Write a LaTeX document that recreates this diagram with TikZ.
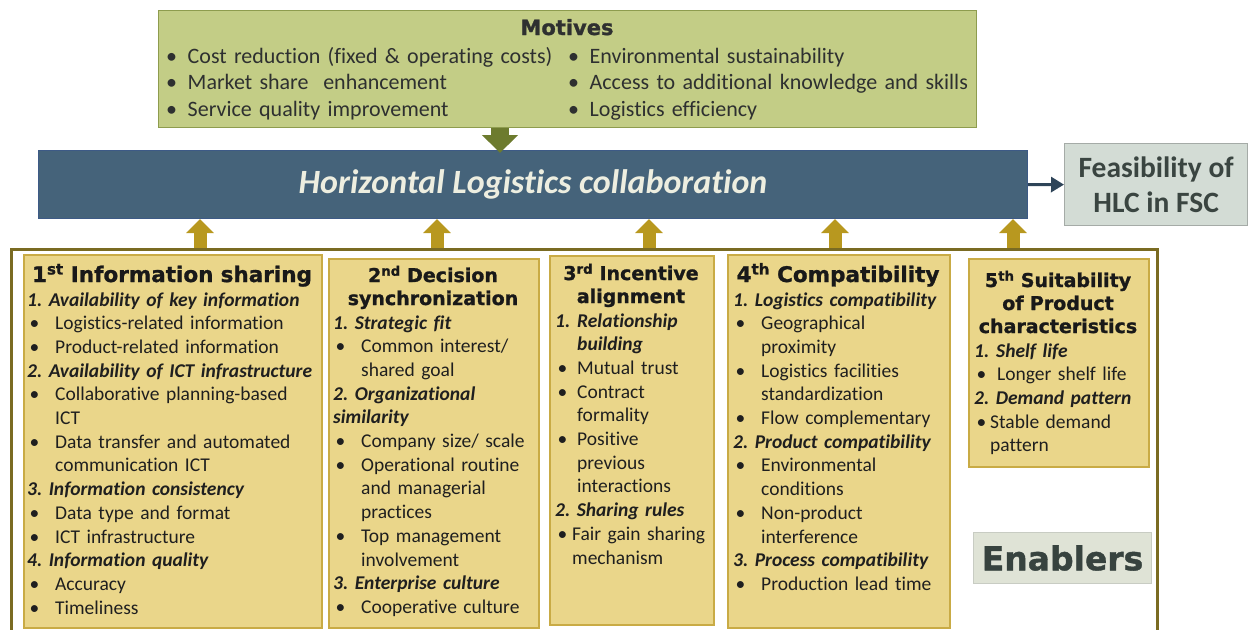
\documentclass[tikz,border=0pt]{standalone}
\usepackage{fontspec}
\setmainfont{Carlito}[Ligatures={NoCommon}]
\newfontfamily\blackfont[FakeBold=1.2]{DejaVu Sans Bold}
\usetikzlibrary{arrows.meta}
\frenchspacing
\definecolor{colfill}{HTML}{EAD68A}
\definecolor{colline}{HTML}{C9AB45}
\definecolor{framecol}{HTML}{7A6B22}
\definecolor{arrowgold}{HTML}{B8981F}
\definecolor{motfill}{HTML}{C3CD86}
\definecolor{motline}{HTML}{8E9C4E}
\definecolor{motarrow}{HTML}{6D7B2E}
\definecolor{mottext}{HTML}{2E3030}
\definecolor{barblue}{HTML}{45637A}
\definecolor{barline}{HTML}{3D5A86}
\definecolor{barwhite}{HTML}{EDEEE0}
\definecolor{arrowblue}{HTML}{2E4458}
\definecolor{feasfill}{HTML}{D3DCD5}
\definecolor{feasline}{HTML}{A5ABA7}
\definecolor{feastext}{HTML}{3A4541}
\definecolor{labfill}{HTML}{DFE3D6}
\definecolor{labline}{HTML}{C8CCC3}
\definecolor{labtext}{HTML}{37433F}
\newcommand{\itm}[1]{\textbf{\textit{#1}}}
\newcommand{\bul}[1][28]{\makebox[#1pt][l]{\hspace*{2.5pt}\textbullet}}
\newcommand{\cnt}[1][28]{\hspace*{#1pt}}

\begin{document}
\begin{tikzpicture}[x=1pt,y=-1pt,line join=miter,
    box/.style={inner sep=0pt,anchor=north west},
    colbox/.style={box,draw=colline,fill=colfill,line width=1.6pt},
    colhead/.style={font=\blackfont\fontsize{19}{23}\selectfont,text width=320pt,align=center,inner sep=0pt,anchor=base,text=black!90},
    coltext/.style={font=\fontsize{19.5}{23.7}\selectfont,text width=300pt,align=left,inner sep=0pt,anchor=base west,text=black!88},
    mottxt/.style={font=\fontsize{22}{26.5}\selectfont,text width=420pt,align=left,inner sep=0pt,anchor=base west,text=mottext},
    uparrow/.style={line width=13pt,color=arrowgold,-{Triangle[width=27pt,length=14pt]}}]
\useasboundingbox (0,0) rectangle (1249,629);
\clip (0,0) rectangle (1249,629);
% motives
\node[box,draw=motline,fill=motfill,line width=1.2pt,minimum width=818pt,minimum height=117pt] (motives) at (158,10) {};
\node[font=\blackfont\fontsize{21}{24}\selectfont,text=mottext,anchor=base,inner sep=0pt] (motivehead) at (567,35) {Motives};
\node[mottxt] (motiveleft) at (163.5,63) {\bul[24]Cost reduction (fixed \& operating costs)\\
  \bul[24]Market share\ \ enhancement\\
  \bul[24]Service quality improvement};
\node[mottxt] (motiveright) at (565.5,63) {\bul[24]Environmental sustainability\\
  \bul[24]Access to additional knowledge and skills\\
  \bul[24]Logistics efficiency};
% collaboration bar and outcome
\node[box,draw=barline,fill=barblue,line width=1pt,minimum width=989pt,minimum height=68pt,
  font=\fontsize{34}{38}\selectfont\bfseries\itshape,text=barwhite] (hlc) at (38,150) {Horizontal Logistics collaboration};
\node[box,draw=feasline,fill=feasfill,line width=1.2pt,minimum width=183pt,minimum height=82pt,
  font=\fontsize{29.5}{35}\selectfont\bfseries,text=feastext,align=center] (feas) at (1064,143) {Feasibility of\\HLC in FSC};
\draw[line width=3pt,color=arrowblue,-{Triangle[width=15pt,length=13pt]}] (hlc.east) -- (feas.west);
\draw[line width=18pt,color=motarrow,-{Triangle[width=35pt,length=18pt]},shorten >=-3pt] (500,0 |- motives.south) -- (500,0 |- hlc.north);
% enablers
\node[box,draw=framecol,line width=3pt,minimum width=1146pt,minimum height=420pt] (enablers) at (10,248) {};
\foreach \ax in {200,437,649,835,1013}
  \draw[uparrow] (\ax,0 |- enablers.north) -- (\ax,0 |- hlc.south);
\node[colbox,minimum width=298pt,minimum height=373pt] (info) at (23,254) {};
\node[colbox,minimum width=210pt,minimum height=369pt] (decision) at (328,258) {};
\node[colbox,minimum width=164pt,minimum height=369pt] (incentive) at (549,255) {};
\node[colbox,minimum width=222pt,minimum height=373pt] (compat) at (727,254) {};
\node[colbox,minimum width=180pt,minimum height=208pt] (suit) at (968,258) {};
\node[colhead,font=\blackfont\fontsize{21.5}{24}\selectfont] (infohead) at (172,282) {1\textsuperscript{st} Information sharing};
\node[colhead] (decisionhead) at (433,282) {2\textsuperscript{nd} Decision\\synchronization};
\node[colhead] (incentivehead) at (631,280) {3\textsuperscript{rd} Incentive\\alignment};
\node[colhead,font=\blackfont\fontsize{21.5}{24}\selectfont] (compathead) at (838,282) {4\textsuperscript{th} Compatibility};
\node[colhead] (suithead) at (1058,287) {5\textsuperscript{th} Suitability\\of Product\\characteristics};
\node[coltext] (infotext) at (27,306) {\itm{1. Availability of key information}\\
  \bul Logistics-related information\\
  \bul Product-related information\\
  \itm{2. Availability of ICT infrastructure}\\
  \bul Collaborative planning-based\\
  \cnt ICT\\
  \bul Data transfer and automated\\
  \cnt communication ICT\\
  \itm{3. Information consistency}\\
  \bul Data type and format\\
  \bul ICT infrastructure\\
  \itm{4. Information quality}\\
  \bul Accuracy\\
  \bul Timeliness};
\node[coltext] (decisiontext) at (333,329) {\itm{1. Strategic fit}\\
  \bul Common interest/\\
  \cnt shared goal\\
  \itm{2. Organizational}\\
  \itm{similarity}\\
  \bul Company size/ scale\\
  \bul Operational routine\\
  \cnt and managerial\\
  \cnt practices\\
  \bul Top management\\
  \cnt involvement\\
  \itm{3. Enterprise culture}\\
  \bul Cooperative culture};
\node[coltext] (incentivetext) at (555,327) {\makebox[22pt][l]{\itm{1.}}\itm{Relationship}\\
  \cnt[22]\itm{building}\\
  \bul[22]Mutual trust\\
  \bul[22]Contract\\
  \cnt[22]formality\\
  \bul[22]Positive\\
  \cnt[22]previous\\
  \cnt[22]interactions\\
  \itm{2. Sharing rules}\\
  \bul[17]Fair gain sharing\\
  \cnt[17]mechanism};
\node[coltext] (compattext) at (733,306) {\itm{1. Logistics compatibility}\\
  \bul Geographical\\
  \cnt proximity\\
  \bul Logistics facilities\\
  \cnt standardization\\
  \bul Flow complementary\\
  \itm{2. Product compatibility}\\
  \bul Environmental\\
  \cnt conditions\\
  \bul Non-product\\
  \cnt interference\\
  \itm{3. Process compatibility}\\
  \bul Production lead time};
\node[coltext] (suittext) at (974,357) {\makebox[22pt][l]{\itm{1.}}\itm{Shelf life}\\
  \bul[23]Longer shelf life\\
  \itm{2. Demand pattern}\\
  \bul[16]Stable demand\\
  \cnt[16]pattern};
\node[box,draw=labline,fill=labfill,line width=1pt,minimum width=178pt,minimum height=51pt,
  font=\blackfont\fontsize{33}{36}\selectfont,text=labtext] (enablerlabel) at (973,532) {Enablers};
\end{tikzpicture}
\end{document}
